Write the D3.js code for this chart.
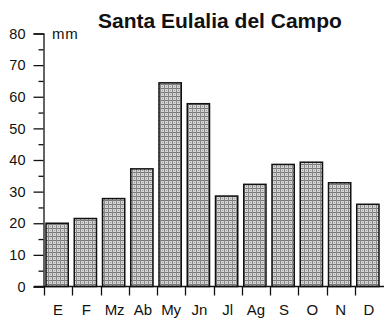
<!DOCTYPE html>
<html>
<head>
<meta charset="utf-8">
<script src="https://cdn.jsdelivr.net/npm/d3@7"></script>
<style>
  body { margin: 0; background: #fff; }
  text { font-family: "Liberation Sans", Arial, sans-serif; fill: #111; }
</style>
</head>
<body>
<div class="chart"></div>
<script>
var months = ["E", "F", "Mz", "Ab", "My", "Jn", "Jl", "Ag", "S", "O", "N", "D"];
var rainfall = [20, 21.5, 27.8, 37.2, 64.4, 57.8, 28.6, 32.3, 38.6, 39.3, 32.8, 26];
var yTicks = [0, 10, 20, 30, 40, 50, 60, 70, 80];
var yMinor = [5, 15, 25, 35, 45, 55, 65, 75];

var width = 384, height = 318;

var svg = d3.select(".chart")
  .append("svg")
  .attr("width", width)
  .attr("height", height);

// stippled fill
var pat = svg.append("defs").append("pattern")
  .attr("id", "stipple")
  .attr("width", 4)
  .attr("height", 4)
  .attr("patternUnits", "userSpaceOnUse");
pat.append("rect").attr("width", 4).attr("height", 4).attr("fill", "#d6d6d6");
pat.append("rect").attr("width", 4).attr("height", 1).attr("fill", "#777");
pat.append("rect").attr("width", 1).attr("height", 4).attr("fill", "#888");
pat.append("rect").attr("x", 2).attr("y", 2).attr("width", 1).attr("height", 1).attr("fill", "#999");

var x = d3.scaleBand()
  .domain(months)
  .range([44, 383]);

var y = d3.scaleLinear()
  .domain([0, 80])
  .range([286.5, 33.5]);

// bars
svg.selectAll("rect.bar")
  .data(rainfall)
  .enter()
  .append("rect")
  .attr("class", "bar")
  .attr("x", function(d, i) { return x(months[i]) + 2; })
  .attr("width", x.bandwidth() - 6)
  .attr("y", function(d) { return y(d); })
  .attr("height", function(d) { return y(0) - y(d); })
  .attr("fill", "url(#stipple)")
  .attr("stroke", "#111")
  .attr("stroke-width", 1.5);

// y axis
var yAxis = svg.append("g")
  .attr("transform", "translate(43.5,0)")
  .call(d3.axisLeft(y).tickValues(yTicks).tickSize(10).tickPadding(8));
yAxis.select(".domain").attr("stroke", "#111").attr("stroke-width", 1.3);
yAxis.selectAll(".tick line").attr("stroke", "#111").attr("stroke-width", 1.3);
yAxis.selectAll("text").style("font-size", "14.5px").attr("font-family", null);

svg.append("g")
  .attr("transform", "translate(43.5,0)")
  .call(d3.axisLeft(y).tickValues(yMinor).tickSize(5).tickFormat(""))
  .call(function(g) {
    g.select(".domain").remove();
    g.selectAll(".tick line").attr("stroke", "#111").attr("stroke-width", 1.3);
  });

// x axis baseline with ticks at band edges
svg.append("line")
  .attr("x1", 34).attr("x2", 384)
  .attr("y1", y(0)).attr("y2", y(0))
  .attr("stroke", "#111").attr("stroke-width", 1.5);

svg.selectAll("line.xtick")
  .data(months)
  .enter()
  .append("line")
  .attr("class", "xtick")
  .attr("x1", function(d) { return Math.round(x(d)) + 0.5; })
  .attr("x2", function(d) { return Math.round(x(d)) + 0.5; })
  .attr("y1", y(0))
  .attr("y2", y(0) + 9)
  .attr("stroke", "#111").attr("stroke-width", 1.3);

svg.selectAll("text.month")
  .data(months)
  .enter()
  .append("text")
  .attr("class", "month")
  .attr("x", function(d) { return x(d) + x.bandwidth() / 2; })
  .attr("y", 315)
  .attr("text-anchor", "middle")
  .style("font-size", "15px")
  .text(function(d) { return d; });

svg.append("text")
  .attr("x", 52)
  .attr("y", 39)
  .style("font-size", "15px")
  .style("letter-spacing", "0.8px")
  .text("mm");

svg.append("text")
  .attr("x", 98)
  .attr("y", 28)
  .style("font-size", "21px")
  .style("font-weight", "bold")
  .text("Santa Eulalia del Campo");
</script>
</body>
</html>
